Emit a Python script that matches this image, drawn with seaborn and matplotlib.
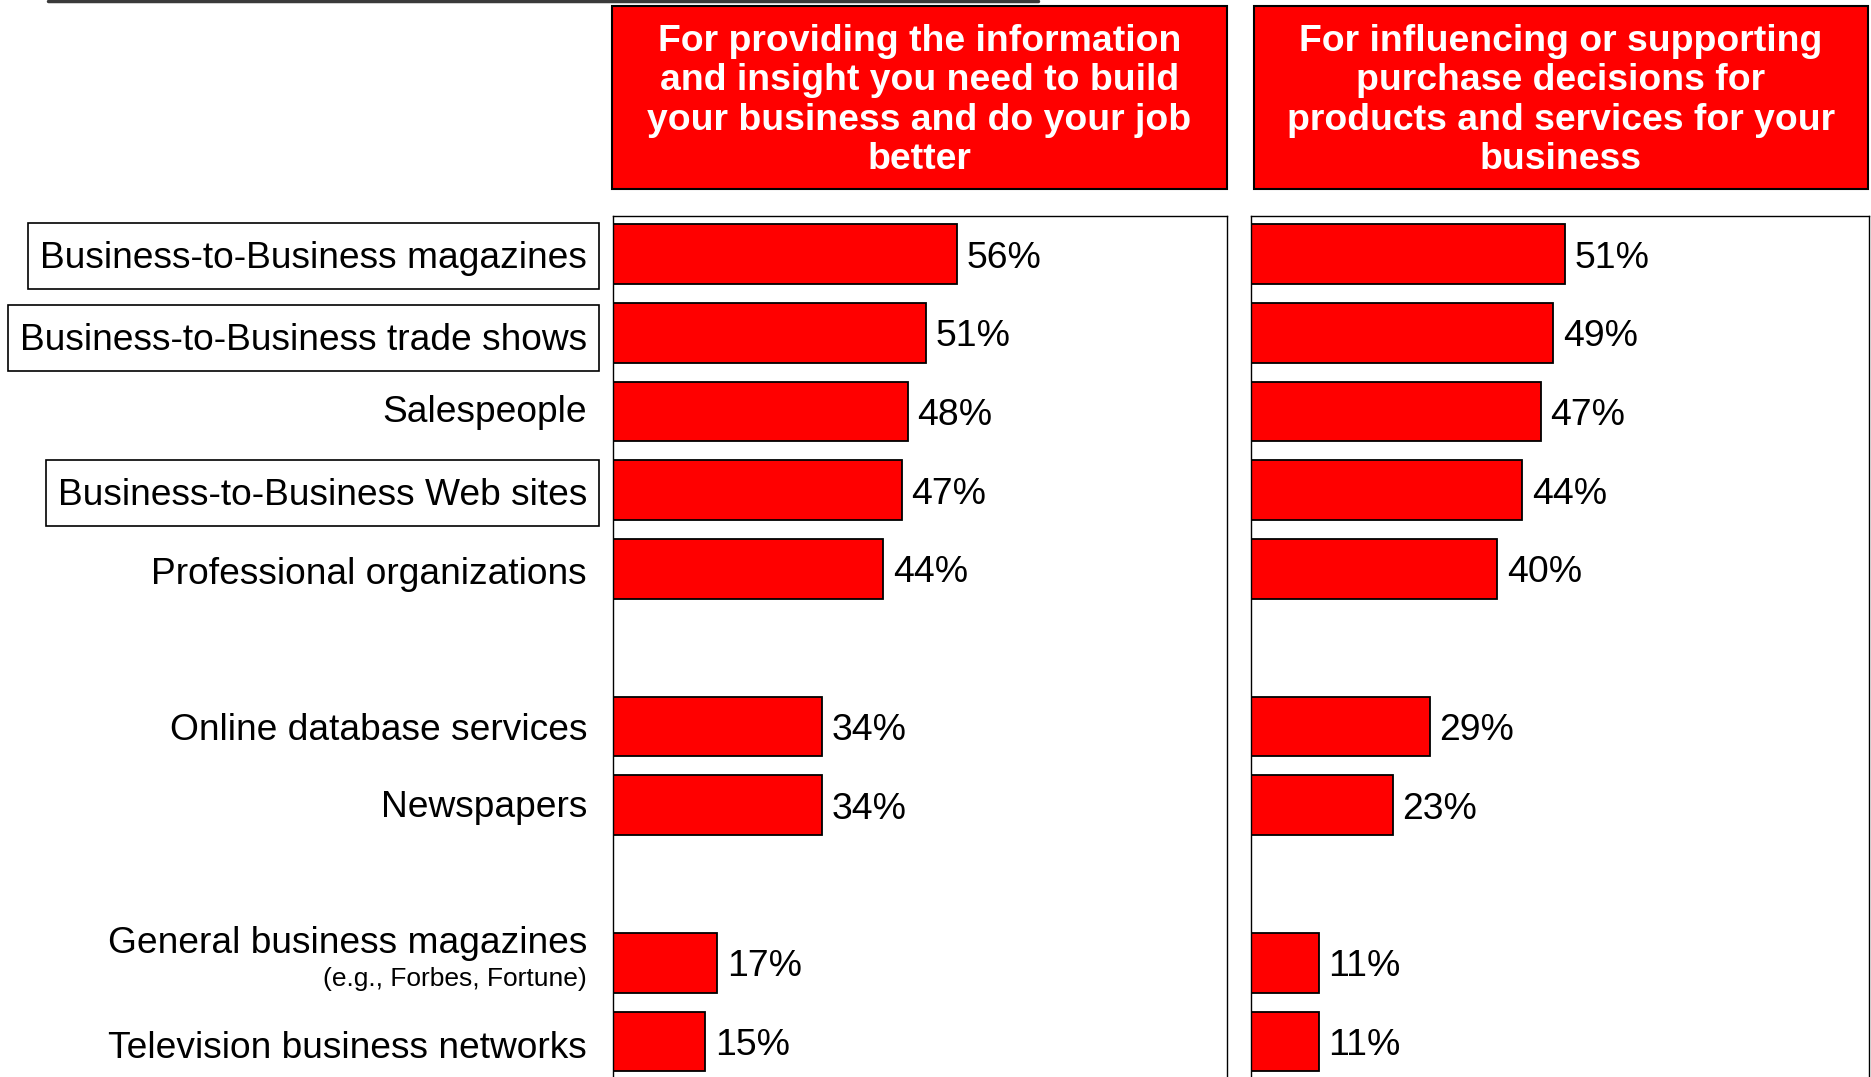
import numpy as np
import pandas as pd
import matplotlib
matplotlib.use("Agg")
import matplotlib.pyplot as plt
from matplotlib.patches import Rectangle
from matplotlib.lines import Line2D
from matplotlib.transforms import blended_transform_factory
import seaborn as sns

# ---- data -------------------------------------------------------------
categories = [
    "Business-to-Business magazines",
    "Business-to-Business trade shows",
    "Salespeople",
    "Business-to-Business Web sites",
    "Professional organizations",
    "Online database services",
    "Newspapers",
    "General business magazines",
    "Television business networks",
]
category_notes = ["", "", "", "", "", "", "", "(e.g., Forbes, Fortune)", ""]
boxed = [True, True, False, True, False, False, False, False, False]
group_sizes = [5, 2, 2]

info_values = [56, 51, 48, 47, 44, 34, 34, 17, 15]
purchase_values = [51, 49, 47, 44, 40, 29, 23, 11, 11]

panel_titles = [
    "For providing the information\nand insight you need to build\nyour business and do your job\nbetter",
    "For influencing or supporting\npurchase decisions for\nproducts and services for your\nbusiness",
]

# ---- style ------------------------------------------------------------
sns.set_theme(style="white")
plt.rcParams["font.family"] = ["Liberation Sans", "DejaVu Sans"]

W, H = 1871, 1077
fig = plt.figure(figsize=(W / 100, H / 100), dpi=100)
fig.patch.set_facecolor("white")

RED = "#FF0000"
FS = 26.9
LABEL_FS = 26.75

# slot positions: groups separated by one empty slot
positions = []
slot = 0
for g in group_sizes:
    positions.extend(range(slot, slot + g))
    slot += g + 1
positions = np.array(positions, dtype=float)

unit = 78.75  # px per slot
top_px = 216
first_center_px = 254
y_top = -(first_center_px - top_px) / unit
y_bottom = (H - first_center_px) / unit

panels = [
    (613, 1227, info_values, 100.0),
    (1251, 1869, purchase_values, 100.3),
]

axes = []
for (x0, x1, vals, xmax) in panels:
    ax = fig.add_axes([x0 / W, 0, (x1 - x0) / W, 1 - top_px / H])
    df = pd.DataFrame({"value": vals, "pos": positions})
    sns.barplot(data=df, x="value", y="pos", orient="h", native_scale=True,
                width=0.76, color=RED, saturation=1, edgecolor="black",
                linewidth=1.3, errorbar=None, ax=ax)
    for c in ax.containers:
        anns = ax.bar_label(c, labels=[f"{v:.0f}%" for v in vals], padding=7,
                            fontsize=FS, color="black")
        for a in anns:
            a.set_verticalalignment("center_baseline")
    ax.set_xlim(0, xmax)
    ax.set_ylim(y_bottom, y_top)
    ax.set_xticks([])
    ax.set_yticks([])
    ax.set_xlabel("")
    ax.set_ylabel("")
    for side in ["left", "top", "right"]:
        ax.spines[side].set_visible(True)
        ax.spines[side].set_color("black")
        ax.spines[side].set_linewidth(1.0)
    ax.spines["bottom"].set_visible(False)
    axes.append(ax)

# category labels to the left of the first panel
ax0 = axes[0]
trans = blended_transform_factory(ax0.transAxes, ax0.transData)
label_x = (587 - 613) / (1227 - 613)
label_shift = [0.0, 0.05, -0.04, 0.02, 0.02, 0.0, -0.02, 0.0, 0.04]
framed_texts = []
for pos, name, note, is_boxed, dy in zip(positions, categories,
                                         category_notes, boxed, label_shift):
    if note:
        ax0.text(label_x, pos - 0.29, name, transform=trans, ha="right",
                 va="center_baseline", fontsize=LABEL_FS, color="black",
                 clip_on=False)
        ax0.text(label_x, pos + 0.18, note, transform=trans, ha="right",
                 va="center_baseline", fontsize=19, color="black", clip_on=False)
    else:
        t = ax0.text(label_x, pos + dy, name, transform=trans, ha="right",
                     va="center_baseline", fontsize=LABEL_FS, color="black",
                     clip_on=False)
        if is_boxed:
            framed_texts.append(t)

# frames round the highlighted labels, sized from the rendered text
fig.canvas.draw()
renderer = fig.canvas.get_renderer()
pad_x, box_h = 12.0, 66.0
for t in framed_texts:
    bb = t.get_window_extent(renderer)
    cy = (bb.y0 + bb.y1) / 2 + 2.5
    rx0, rx1 = bb.x0 - pad_x, bb.x1 + pad_x
    fig.patches.append(Rectangle((rx0 / W, (cy - box_h / 2) / H),
                                 (rx1 - rx0) / W, box_h / H,
                                 transform=fig.transFigure, facecolor="none",
                                 edgecolor="black", lw=1.2, zorder=3))

# red header boxes above each panel
headers = [(612, 1227), (1254, 1868)]
hy0, hy1 = 6, 189
for (x0, x1), title in zip(headers, panel_titles):
    fig.patches.append(Rectangle((x0 / W, 1 - hy1 / H), (x1 - x0) / W,
                                 (hy1 - hy0) / H, transform=fig.transFigure,
                                 facecolor=RED, edgecolor="black", lw=1.5,
                                 zorder=1))
    fig.text((x0 + x1) / 2 / W, 1 - ((hy0 + hy1) / 2 + 3) / H, title,
             ha="center", va="center", fontsize=FS, fontweight="bold",
             color="white", linespacing=1.17, zorder=2)

# rule along the top edge
fig.add_artist(Line2D([48 / W, 1038 / W], [1 - 1 / H, 1 - 1 / H],
                      transform=fig.transFigure, color="#3a3a3a", lw=2.5))

fig.savefig("out.png", dpi=100, facecolor="white")
